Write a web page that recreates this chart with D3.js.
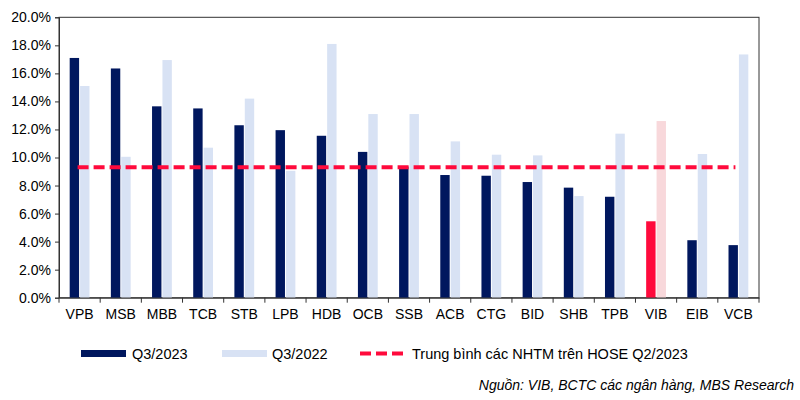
<!DOCTYPE html>
<html><head><meta charset="utf-8">
<script src="https://cdn.jsdelivr.net/npm/d3@7"></script>
<style>body{margin:0;background:#fff}svg{display:block;font-family:"Liberation Sans",Arial,sans-serif}</style>
</head><body><svg id="c" width="800" height="400"></svg>
<script>
const categories = ["VPB","MSB","MBB","TCB","STB","LPB","HDB","OCB","SSB","ACB","CTG","BID","SHB","TPB","VIB","EIB","VCB"];
const q3_2023 = [17.1,16.35,13.65,13.5,12.3,11.95,11.55,10.4,9.35,8.75,8.7,8.25,7.85,7.2,5.45,4.1,3.75];
const q3_2022 = [15.1,10.05,16.95,10.7,14.2,9.05,18.1,13.1,13.1,11.15,10.2,10.15,7.25,11.7,12.6,10.25,17.35];
const avgValue = 9.3;
const yTicks = [0,2,4,6,8,10,12,14,16,18,20];
const highlight = "VIB";
const legendLabels = ["Q3/2023","Q3/2022","Trung bình các NHTM trên HOSE Q2/2023"];
const sourceText = "Nguồn: VIB, BCTC các ngân hàng, MBS Research";

const C = {dark:"#00175E", light:"#D8E2F4", red:"#FF0A3C", pink:"#F8D8DB", axis:"#333"};
const L=59, R=759, T=17.3, B=297.7;
const svg = d3.select("#c");
const x = d3.scaleBand().domain(categories).range([L,R]).paddingInner(0).paddingOuter(0);
const y = d3.scaleLinear().domain([0,20]).range([B,T]);
const bw = 9.4;

// frame
svg.append("rect").attr("x",L).attr("y",T).attr("width",R-L).attr("height",B-T)
  .attr("fill","none").attr("stroke",C.axis).attr("stroke-width",1);

const g = svg.append("g");
categories.forEach((c,i)=>{
  const cx = x(c)+x.bandwidth()/2;
  const hl = c===highlight;
  g.append("rect").attr("x",cx-bw-0.5).attr("width",bw).attr("y",y(q3_2023[i])).attr("height",y(0)-y(q3_2023[i]))
    .attr("fill",hl?C.red:C.dark);
  g.append("rect").attr("x",cx+0.5).attr("width",bw).attr("y",y(q3_2022[i])).attr("height",y(0)-y(q3_2022[i]))
    .attr("fill",hl?C.pink:C.light);
});

// average line
const x0 = x(categories[0])+x.bandwidth()/2 - 2, x1 = x(categories[categories.length-1])+x.bandwidth()/2 - 3;
svg.append("line").attr("x1",x0).attr("x2",x1).attr("y1",y(avgValue)).attr("y2",y(avgValue))
  .attr("stroke",C.red).attr("stroke-width",4).attr("stroke-dasharray","11,5");

// y axis
const ya = svg.append("g").attr("transform",`translate(${L},0)`)
  .call(d3.axisLeft(y).tickValues(yTicks).tickSize(4).tickPadding(4).tickFormat(d=>d.toFixed(1)+"%"));
ya.select(".domain").attr("stroke",C.axis);
ya.selectAll(".tick line").attr("stroke",C.axis);
ya.selectAll("text").attr("font-size",14).attr("fill","#000").attr("font-family","Liberation Sans, Arial");

// x axis
const xa = svg.append("g").attr("transform",`translate(0,${B})`)
  .call(d3.axisBottom(x).tickSize(0).tickPadding(11));
xa.select(".domain").attr("stroke",C.axis);
xa.selectAll("text").attr("font-size",14).attr("fill","#000").attr("font-family","Liberation Sans, Arial");
const bounds = categories.map(c=>x(c)).concat([R]);
svg.append("g").selectAll("line").data(bounds).join("line")
  .attr("x1",d=>d).attr("x2",d=>d).attr("y1",B).attr("y2",B+5).attr("stroke",C.axis);

// legend
const lg = svg.append("g").attr("font-size",14.5).attr("fill","#000");
lg.append("rect").attr("x",81).attr("y",350).attr("width",45).attr("height",7).attr("fill",C.dark);
lg.append("text").attr("x",132).attr("y",353.5).attr("dy","0.35em").text(legendLabels[0]);
lg.append("rect").attr("x",222).attr("y",350).attr("width",45).attr("height",7).attr("fill",C.light);
lg.append("text").attr("x",272).attr("y",353.5).attr("dy","0.35em").text(legendLabels[1]);
lg.append("line").attr("x1",360).attr("x2",405).attr("y1",353.5).attr("y2",353.5)
  .attr("stroke",C.red).attr("stroke-width",4).attr("stroke-dasharray","11,5");
lg.append("text").attr("x",412).attr("y",353.5).attr("dy","0.35em").text(legendLabels[2]);

svg.append("text").attr("x",794).attr("y",385.5).attr("dy","0.35em").attr("text-anchor","end")
  .attr("font-size",14).attr("font-style","italic").text(sourceText);
</script></body></html>
